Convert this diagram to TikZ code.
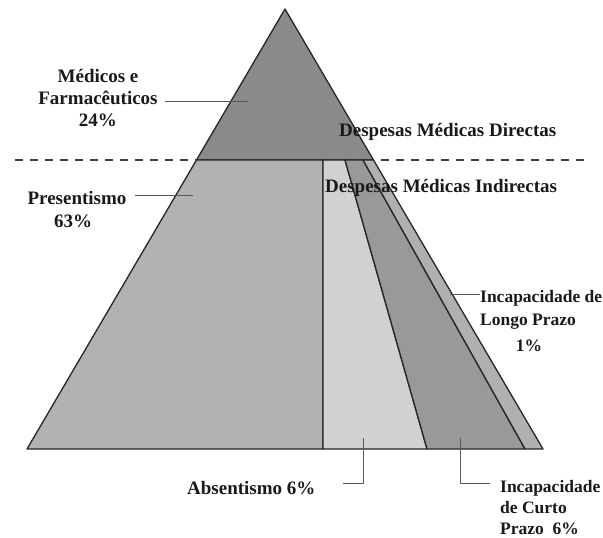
\documentclass[tikz,border=0pt]{standalone}
\usepackage{fontspec}
\setmainfont{Liberation Serif}
\begin{document}
\begin{tikzpicture}[x=1pt,y=-1pt,
  region/.style={draw=black!85,line width=1.3pt,line join=round},
  leader/.style={draw=black!65,line width=0.9pt},
  divider/.style={draw=black!75,line width=2.2pt,dash pattern=on 8pt off 7pt},
  lbl/.style={font=\fontsize{19}{22}\selectfont\bfseries,text=black!90,inner sep=0pt},
  sidelbl/.style={lbl,font=\fontsize{17.5}{21}\selectfont\bfseries}]
\useasboundingbox (0,0) rectangle (603,538);
% pyramid corners
\coordinate (apex) at (285,9);
\coordinate (bl) at (27,449);
\coordinate (br) at (543,449);
\coordinate (ml) at (196.5,160);
\coordinate (mr) at (373.5,160);
% inner splits on the divider and on the base
\coordinate (t1) at (323,160);  \coordinate (b1) at (323,449);
\coordinate (t2) at (345,160);  \coordinate (b2) at (427,449);
\coordinate (t3) at (363,160);  \coordinate (b3) at (525,449);
% regions
\filldraw[region,fill=black!46] (apex) -- (mr) -- (ml) -- cycle;
\filldraw[region,fill=black!30] (ml) -- (t1) -- (b1) -- (bl) -- cycle;
\filldraw[region,fill=black!18] (t1) -- (t2) -- (b2) -- (b1) -- cycle;
\filldraw[region,fill=black!40] (t2) -- (t3) -- (b3) -- (b2) -- cycle;
\filldraw[region,fill=black!31] (t3) -- (mr) -- (br) -- (b3) -- cycle;
% divider between direct and indirect costs
\coordinate (dl0) at (15,160);
\coordinate (dr1) at (590,160);
\draw[divider] (dl0) -- (ml);
\draw[divider] ([xshift=7pt]mr) -- (dr1);
% labels
\node[lbl,align=center] (med) at (98,98) {Médicos e\\Farmacêuticos\\24\%};
\node[lbl] (pres) at (77,198) {Presentismo};
\node[lbl] (pres2) at (73,221) {63\%};
\node[lbl,anchor=west] (dir) at (339,132) {Despesas Médicas Directas};
\node[lbl,anchor=west] (ind) at (325,188) {Despesas Médicas Indirectas};
\node[sidelbl,anchor=west] (longo) at (480,298) {Incapacidade de};
\node[sidelbl,anchor=west] (longo1) at (480,322) {Longo Prazo};
\node[sidelbl] (longo2) at (529,346) {1\%};
\node[lbl,anchor=west] (abs) at (187,488) {Absentismo 6\%};
\node[sidelbl,anchor=west,align=left] (curto) at (500,508) {Incapacidade\\de Curto\\Prazo~~6\%};
% leader lines
\coordinate (medA) at (165,101);  \coordinate (medB) at (248,101);
\coordinate (preA) at (135,195);  \coordinate (preB) at (193,195);
\coordinate (lonA) at (450,294);  \coordinate (lonB) at (480,294);
\coordinate (absA) at (363,438);  \coordinate (absB) at (363,483); \coordinate (absC) at (343,483);
\coordinate (curA) at (460,438);  \coordinate (curB) at (460,483); \coordinate (curC) at (490,483);
\draw[leader] (medA) -- (medB);
\draw[leader] (preA) -- (preB);
\draw[leader] (lonA) -- (lonB);
\draw[leader] (absA) -- (absB) -- (absC);
\draw[leader] (curA) -- (curB) -- (curC);
\end{tikzpicture}
\end{document}
